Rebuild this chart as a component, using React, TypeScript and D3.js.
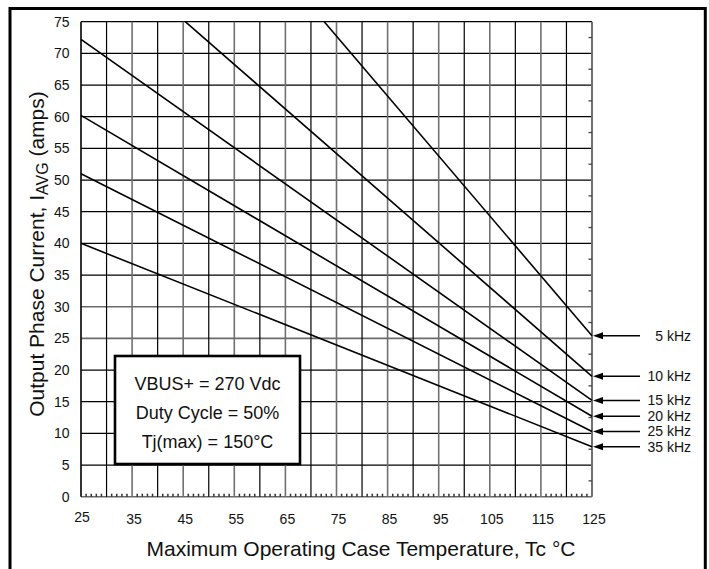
import React from 'react';
import * as d3 from 'd3';

// frequency curves (case temp °C, current A)
const series = ['5 kHz', '10 kHz', '15 kHz', '20 kHz', '25 kHz', '35 kHz'];
const startTemps = [72.6, 45.4, 25, 25, 25, 25];
const startAmps = [75, 75, 72.2, 60.2, 51, 40];
const endTemps = [125, 125, 125, 125, 125, 125];
const endAmps = [25.4, 19.0, 15.2, 12.7, 10.3, 7.9];

const xTicks = [25, 35, 45, 55, 65, 75, 85, 95, 105, 115, 125];
const yTicks = [0, 5, 10, 15, 20, 25, 30, 35, 40, 45, 50, 55, 60, 65, 70, 75];
const notes = ['VBUS+ = 270 Vdc', 'Duty Cycle = 50%', 'Tj(max) = 150°C'];

const W = 709;
const H = 569;
const FONT = '"Liberation Sans", Arial, Helvetica, sans-serif';

export default function App() {
  const x = d3.scaleLinear().domain([25, 125]).range([81, 592]);
  const y = d3.scaleLinear().domain([0, 75]).range([496.7, 21.7]);

  const line = d3.line<[number, number]>()
    .x(d => x(d[0]))
    .y(d => y(d[1]));

  const vGrid = d3.range(25, 126, 5);
  const minorX = d3.range(26, 125).filter(v => v % 5 !== 0);
  const minorY = d3.range(2.5, 75, 5);

  return (
    <svg width={W} height={H} style={{ position: 'fixed', left: 0, top: 0, background: '#fff' }}
      fontFamily={FONT}>
      <rect x={0} y={0} width={W} height={H} fill="#fff" />
      {/* outer frame */}
      <rect x={10} y={8.5} width={695.3} height={580} fill="none" stroke="#000" strokeWidth={3} />

      {/* grid */}
      {yTicks.map(v => (
        <line key={'h' + v} x1={x(25)} x2={x(125)} y1={y(v)} y2={y(v)}
          stroke={v === 25 || v === 30 || v === 0 ? '#6a6a6a' : '#000'}
          strokeWidth={v === 25 || v === 30 || v === 0 ? 1.6 : 1.2} />
      ))}
      {vGrid.map(v => {
        const labelled = (v - 25) % 10 === 0;
        return (
          <line key={'v' + v} x1={x(v)} x2={x(v)} y1={y(0)} y2={y(75)}
            stroke={v === 25 ? '#000' : labelled ? '#707070' : '#000'}
            strokeWidth={v === 125 ? 2 : labelled ? 1.6 : 1.2} />
        );
      })}
      {minorX.map(v => (
        <line key={'mx' + v} x1={x(v)} x2={x(v)} y1={y(0)} y2={y(0) - 3}
          stroke="#333" strokeWidth={1.5} />
      ))}
      {minorY.map(v => (
        <line key={'my' + v} x1={x(125)} x2={x(125) - 3.5} y1={y(v)} y2={y(v)}
          stroke="#444" strokeWidth={1.3} />
      ))}

      {/* curves */}
      {series.map((s, i) => (
        <path key={s} d={line([[startTemps[i], startAmps[i]], [endTemps[i], endAmps[i]]]) || ''}
          fill="none" stroke="#000" strokeWidth={1.6} />
      ))}

      {/* conditions box */}
      <rect x={115} y={356} width={185} height={108} fill="#fff" stroke="#000" strokeWidth={2.6} />
      {notes.map((t, i) => (
        <text key={t} x={207.5} y={390 + i * 29.2} textAnchor="middle" fontSize={18} fill="#111">{t}</text>
      ))}

      {/* arrows + labels */}
      {series.map((s, i) => {
        const yy = y(endAmps[i]);
        const x0 = x(125);
        return (
          <g key={'lab' + s}>
            <line x1={x0 + 8} x2={640} y1={yy} y2={yy} stroke="#000" strokeWidth={1.5} />
            <polygon points={`${x0 + 1},${yy} ${x0 + 11},${yy - 3.5} ${x0 + 11},${yy + 3.5}`} fill="#000" />
            <text x={691} y={yy} dy="0.35em" textAnchor="end" fontSize={14} fill="#111">{s}</text>
          </g>
        );
      })}

      {/* y tick labels */}
      {yTicks.map(v => (
        <text key={'yl' + v} x={69.5} y={y(v)} dy="0.35em" textAnchor="end" fontSize={14} fill="#111">{v}</text>
      ))}
      {/* x tick labels */}
      {xTicks.map(v => (
        <text key={'xl' + v} x={v === 25 ? x(v) + 1 : x(v) + 2} y={v === 25 ? 521.5 : 523.5}
          textAnchor="middle" fontSize={14} fill="#111">{v}</text>
      ))}

      {/* axis titles */}
      <text x={361} y={556} textAnchor="middle" fontSize={21} fill="#111">
        Maximum Operating Case Temperature, Tc °C
      </text>
      <text transform="translate(44,254) rotate(-90)" textAnchor="middle" fontSize={21} fill="#111">
        Output Phase Current, I<tspan fontSize={16} dy={3.5}>AVG</tspan><tspan dy={-3.5}> (amps)</tspan>
      </text>
    </svg>
  );
}
